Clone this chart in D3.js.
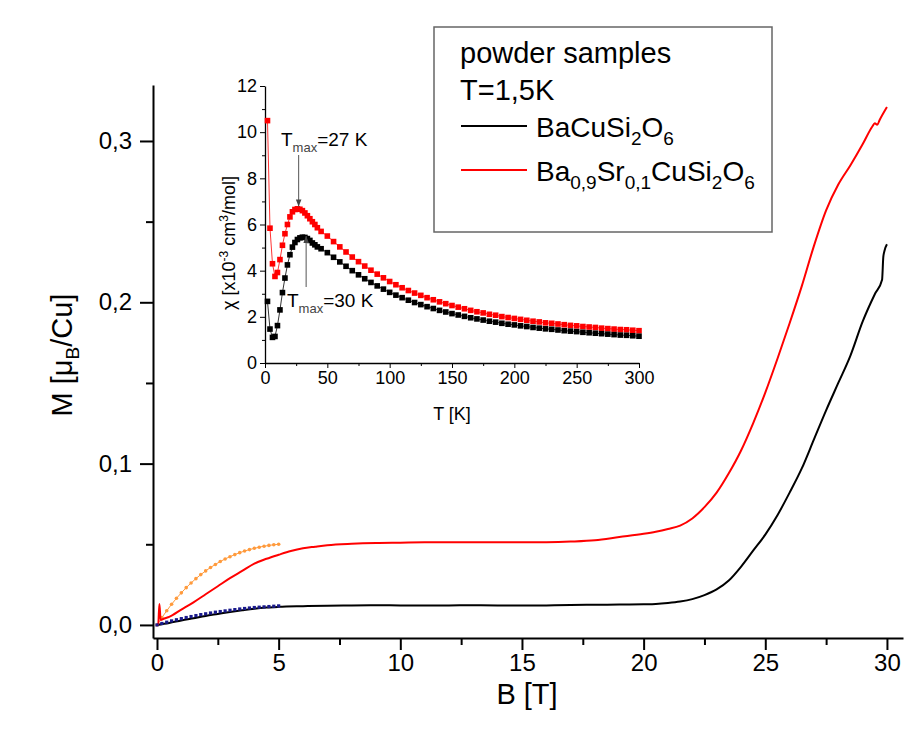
<!DOCTYPE html>
<html><head><meta charset="utf-8">
<script src="https://cdn.jsdelivr.net/npm/d3@7"></script>
<style>body{margin:0;background:#fff}svg{display:block}text{font-family:"Liberation Sans",Arial,sans-serif}</style>
</head><body>
<svg id="c" width="906" height="731"></svg>
<script>
// ---------- main chart data ----------
const bBlack = [0,0.5,1,1.5,2,2.5,3,3.5,4,4.5,5,6,7,8,9,10,11,12,13,14,15,16,17,18,19,20,20.5,21,21.5,22,22.5,23,23.5,24,24.5,25,25.5,26,26.5,27,27.5,28,28.5,29,29.5,29.8,29.85,29.9,30];
const mBlack = [0,0.0012,0.0028,0.0042,0.0056,0.0068,0.008,0.0091,0.0101,0.0108,0.0112,0.0116,0.0119,0.0121,0.0122,0.0121,0.012,0.0121,0.0122,0.0121,0.012,0.0121,0.0123,0.0125,0.0126,0.0128,0.013,0.0136,0.0145,0.016,0.0185,0.022,0.0275,0.036,0.046,0.056,0.068,0.082,0.097,0.115,0.133,0.15,0.167,0.188,0.205,0.214,0.228,0.232,0.236];
const bRed = [0,0.05,0.1,0.15,0.3,0.5,1,1.5,2,2.5,3,3.5,4,4.5,5,5.5,6,6.5,7,8,9,10,11,12,13,14,15,16,17,18,19,20,20.5,21,21.5,22,22.5,23,23.5,24,24.5,25,25.5,26,26.5,27,27.5,28,28.5,29,29.4,29.5,29.6,29.7,30];
const mRed = [0,0.0005,0.013,0.003,0.004,0.005,0.0095,0.014,0.019,0.024,0.029,0.0335,0.038,0.041,0.0435,0.0458,0.0475,0.0485,0.0494,0.0503,0.0508,0.051,0.0512,0.0512,0.0513,0.0512,0.0512,0.0513,0.0517,0.0525,0.0545,0.0565,0.0578,0.0595,0.0616,0.066,0.073,0.082,0.094,0.108,0.125,0.144,0.165,0.187,0.21,0.235,0.257,0.273,0.285,0.298,0.309,0.311,0.31,0.313,0.321];
const bFit = [0,0.2,0.4,0.6,0.8,1,1.2,1.4,1.6,1.8,2,2.2,2.4,2.6,2.8,3,3.2,3.4,3.6,3.8,4,4.2,4.4,4.6,4.8,5];
const mOrange = [0,0.0045,0.0088,0.0128,0.0165,0.0199,0.0231,0.026,0.0287,0.0312,0.0335,0.0356,0.0375,0.0393,0.0409,0.0423,0.0436,0.0448,0.0458,0.0467,0.0475,0.0482,0.0488,0.0493,0.0497,0.05];
const mNavy = [0,0.0009,0.0017,0.0025,0.0032,0.0039,0.0046,0.0052,0.0058,0.0064,0.0069,0.0074,0.0079,0.0083,0.0087,0.0091,0.0095,0.0099,0.0102,0.0105,0.0108,0.011,0.0112,0.0114,0.0116,0.0118];
const xTicks = [0,5,10,15,20,25,30];
const yTicks = [0,0.1,0.2,0.3];

// ---------- inset data ----------
const tBlack = [2,4,6,8,10,12,14,16,18,20,22,24,26,28,30,32,34,36,38,40,42,45,50,55,60,65,70,75,80,85,90,95,100,105,110,115,120,125,130,135,140,145,150,155,160,165,170,175,180,185,190,195,200,205,210,215,220,225,230,235,240,245,250,255,260,265,270,275,280,285,290,295,300];
const chiBlack = [2.67,1.47,1.11,1.15,1.62,2.3,3.05,3.68,4.25,4.69,5.02,5.22,5.35,5.42,5.45,5.44,5.39,5.31,5.2,5.12,5.03,4.95,4.78,4.58,4.38,4.19,4.0,3.82,3.65,3.49,3.34,3.2,3.06,2.94,2.83,2.72,2.62,2.53,2.44,2.36,2.28,2.21,2.14,2.08,2.02,1.96,1.91,1.86,1.81,1.77,1.72,1.68,1.65,1.61,1.58,1.54,1.51,1.48,1.46,1.43,1.4,1.38,1.36,1.33,1.31,1.29,1.27,1.25,1.23,1.21,1.2,1.18,1.16];
const tRed = tBlack;
const chiRed = [10.5,5.84,4.3,3.75,3.92,4.48,5.1,5.6,6.0,6.33,6.55,6.65,6.68,6.66,6.6,6.5,6.38,6.25,6.12,6.0,5.86,5.7,5.5,5.26,5.03,4.81,4.59,4.39,4.2,4.02,3.85,3.69,3.53,3.39,3.26,3.14,3.03,2.93,2.83,2.74,2.65,2.57,2.49,2.42,2.35,2.28,2.22,2.17,2.11,2.07,2.01,1.97,1.93,1.89,1.85,1.81,1.78,1.74,1.72,1.69,1.66,1.63,1.61,1.58,1.56,1.54,1.51,1.49,1.47,1.45,1.44,1.42,1.4];
const insetXTicks = [0,50,100,150,200,250,300];
const insetYTicks = [0,2,4,6,8,10,12];

const svg = d3.select("#c");
const comma = d => d3.format(".1f")(d).replace(".", ",");

// ---------- main scales ----------
const x = d3.scaleLinear().domain([-0.164, 30.66]).range([153, 903]);
const y = d3.scaleLinear().domain([-0.0081, 0.3347]).range([638, 85]);

function styleAxis(g, fs) {
  g.select(".domain").attr("stroke", "#000").attr("stroke-width", 2);
  g.selectAll(".tick line").attr("stroke", "#000").attr("stroke-width", 2);
  g.selectAll(".tick text").attr("fill", "#000").style("font-size", fs + "px").style("font-family", '"Liberation Sans",Arial,sans-serif');
}

// minor ticks
const xMinor = d3.range(2.5, 30, 5);
const yMinor = [0.05, 0.15, 0.25];
svg.append("g").attr("transform", "translate(0,638)")
  .call(d3.axisBottom(x).tickValues(xMinor).tickSize(7).tickFormat("")).call(g => { g.select(".domain").remove(); g.selectAll("line").attr("stroke","#000").attr("stroke-width",2); });
svg.append("g").attr("transform", "translate(153,0)")
  .call(d3.axisLeft(y).tickValues(yMinor).tickSize(7).tickFormat("")).call(g => { g.select(".domain").remove(); g.selectAll("line").attr("stroke","#000").attr("stroke-width",2); });

const gx = svg.append("g").attr("transform", "translate(0,638)")
  .call(d3.axisBottom(x).tickValues(xTicks).tickSize(12).tickSizeOuter(0).tickPadding(4).tickFormat(d3.format("d")));
styleAxis(gx, 24);
const gy = svg.append("g").attr("transform", "translate(153,0)")
  .call(d3.axisLeft(y).tickValues(yTicks).tickSize(13).tickSizeOuter(0).tickPadding(8).tickFormat(comma));
styleAxis(gy, 24);

// axis titles
svg.append("text").attr("x", 527).attr("y", 704).attr("text-anchor", "middle").style("font-size", "29px").text("B [T]");
const yl = svg.append("text").attr("transform", "translate(72,355) rotate(-90)").attr("text-anchor", "middle").style("font-size", "29px");
yl.append("tspan").text("M [μ");
yl.append("tspan").attr("dy", 7).style("font-size", "19px").text("B");
yl.append("tspan").attr("dy", -7).text("/Cu]");

// main lines
const line = d3.line().x(d => x(d[0])).y(d => y(d[1]));
const zip = (a, b) => a.map((v, i) => [v, b[i]]);

svg.append("path").datum(zip(bFit, mOrange)).attr("d", line).attr("fill", "none").attr("stroke", "#ff9a3c").attr("stroke-width", 1);
svg.append("g").selectAll("circle").data(zip(bFit, mOrange)).join("circle")
  .attr("cx", d => x(d[0])).attr("cy", d => y(d[1])).attr("r", 1.8).attr("fill", "#ff9a3c");

const smooth = d3.line().x(d => x(d[0])).y(d => y(d[1])).curve(d3.curveMonotoneX);
svg.append("path").datum(zip(bBlack, mBlack)).attr("d", smooth).attr("fill", "none").attr("stroke", "#000").attr("stroke-width", 2);
svg.append("path").datum(zip(bRed, mRed)).attr("d", smooth).attr("fill", "none").attr("stroke", "#ff0000").attr("stroke-width", 2);

svg.append("g").selectAll("rect").data(zip(bFit, mNavy)).join("rect")
  .attr("x", d => x(d[0]) - 1.6).attr("y", d => y(d[1]) - 1.6).attr("width", 3.2).attr("height", 3.2).attr("fill", "#1a1a8c");

// ---------- legend ----------
svg.append("rect").attr("x", 434).attr("y", 27).attr("width", 338).attr("height", 205).attr("fill", "#fff").attr("stroke", "#666").attr("stroke-width", 1.5);
svg.append("text").attr("x", 460).attr("y", 63).style("font-size", "29px").text("powder samples");
svg.append("text").attr("x", 460).attr("y", 100).style("font-size", "29px").text("T=1,5K");
svg.append("line").attr("x1", 461).attr("x2", 527).attr("y1", 126).attr("y2", 126).attr("stroke", "#000").attr("stroke-width", 2);
svg.append("line").attr("x1", 461).attr("x2", 527).attr("y1", 170).attr("y2", 170).attr("stroke", "#ff0000").attr("stroke-width", 2);
function formula(parts, xx, yy) {
  const t = svg.append("text").attr("x", xx).attr("y", yy).style("font-size", "28px");
  let sub = false;
  parts.forEach(p => {
    const isSub = p[1];
    const ts = t.append("tspan").text(p[0]);
    if (isSub && !sub) ts.attr("dy", 8).style("font-size", "19px");
    else if (isSub) ts.style("font-size", "19px");
    else if (!isSub && sub) ts.attr("dy", -8);
    sub = isSub;
  });
}
formula([["BaCuSi",0],["2",1],["O",0],["6",1]], 536, 137);
formula([["Ba",0],["0,9",1],["Sr",0],["0,1",1],["CuSi",0],["2",1],["O",0],["6",1]], 536, 181);

// ---------- inset ----------
const ix = d3.scaleLinear().domain([0, 300]).range([265, 639]);
const iy = d3.scaleLinear().domain([0, 12]).range([363, 86]);
svg.append("g").attr("transform", "translate(0,363)")
  .call(d3.axisBottom(ix).tickValues(d3.range(25, 300, 50)).tickSize(3).tickFormat("")).call(g => { g.select(".domain").remove(); g.selectAll("line").attr("stroke","#000"); });
svg.append("g").attr("transform", "translate(265,0)")
  .call(d3.axisLeft(iy).tickValues(d3.range(1, 12, 2)).tickSize(3).tickFormat("")).call(g => { g.select(".domain").remove(); g.selectAll("line").attr("stroke","#000"); });
const igx = svg.append("g").attr("transform", "translate(0,363)")
  .call(d3.axisBottom(ix).tickValues(insetXTicks).tickSize(5).tickSizeOuter(0).tickPadding(3));
igx.select(".domain").attr("stroke", "#000").attr("stroke-width", 1.3);
igx.selectAll(".tick line").attr("stroke", "#000");
igx.selectAll(".tick text").style("font-size", "18px").attr("fill", "#000");
const igy = svg.append("g").attr("transform", "translate(265,0)")
  .call(d3.axisLeft(iy).tickValues(insetYTicks).tickSize(5).tickSizeOuter(0).tickPadding(3));
igy.select(".domain").attr("stroke", "#000").attr("stroke-width", 1.3);
igy.selectAll(".tick line").attr("stroke", "#000");
igy.selectAll(".tick text").style("font-size", "18px").attr("fill", "#000");

svg.append("text").attr("x", 452).attr("y", 420).attr("text-anchor", "middle").style("font-size", "18px").text("T [K]");
const il = svg.append("text").attr("transform", "translate(235,243) rotate(-90)").attr("text-anchor", "middle").style("font-size", "18px");
il.append("tspan").text("χ [x10");
il.append("tspan").attr("dy", -7).style("font-size", "12px").text("-3");
il.append("tspan").attr("dy", 7).text(" cm");
il.append("tspan").attr("dy", -7).style("font-size", "12px").text("3");
il.append("tspan").attr("dy", 7).text("/mol]");

const iline = d3.line().x(d => ix(d[0])).y(d => iy(d[1]));
svg.append("path").datum(zip(tRed, chiRed)).attr("d", iline).attr("fill", "none").attr("stroke", "#ff0000").attr("stroke-width", 0.8);
svg.append("path").datum(zip(tBlack, chiBlack)).attr("d", iline).attr("fill", "none").attr("stroke", "#000").attr("stroke-width", 0.8);
svg.append("g").selectAll("rect").data(zip(tRed, chiRed)).join("rect")
  .attr("x", d => ix(d[0]) - 2.8).attr("y", d => iy(d[1]) - 2.8).attr("width", 5.6).attr("height", 5.6).attr("fill", "#ff0000");
svg.append("g").selectAll("rect").data(zip(tBlack, chiBlack)).join("rect")
  .attr("x", d => ix(d[0]) - 2.8).attr("y", d => iy(d[1]) - 2.8).attr("width", 5.6).attr("height", 5.6).attr("fill", "#000");

// annotations
svg.append("defs").append("marker").attr("id", "ah").attr("viewBox", "0 0 10 10").attr("refX", 10).attr("refY", 5)
  .attr("markerWidth", 7).attr("markerHeight", 7).attr("orient", "auto")
  .append("path").attr("d", "M0,1 L10,5 L0,9 Z").attr("fill", "#444");
function tmax(xx, yy, val) {
  const t = svg.append("text").attr("x", xx).attr("y", yy).style("font-size", "19px");
  t.append("tspan").text("T");
  t.append("tspan").attr("dy", 6).style("font-size", "13px").attr("fill", "#444").text("max");
  t.append("tspan").attr("dy", -6).text("=" + val + " K");
}
tmax(281, 146, 27);
tmax(287, 307, 30);
svg.append("line").attr("x1", ix(27)).attr("x2", ix(27)).attr("y1", 155).attr("y2", iy(6.78)).attr("stroke", "#555").attr("marker-end", "url(#ah)");
svg.append("line").attr("x1", ix(33)).attr("x2", ix(33)).attr("y1", 287).attr("y2", iy(5.5)).attr("stroke", "#555").attr("marker-end", "url(#ah)");
</script>
</body></html>
